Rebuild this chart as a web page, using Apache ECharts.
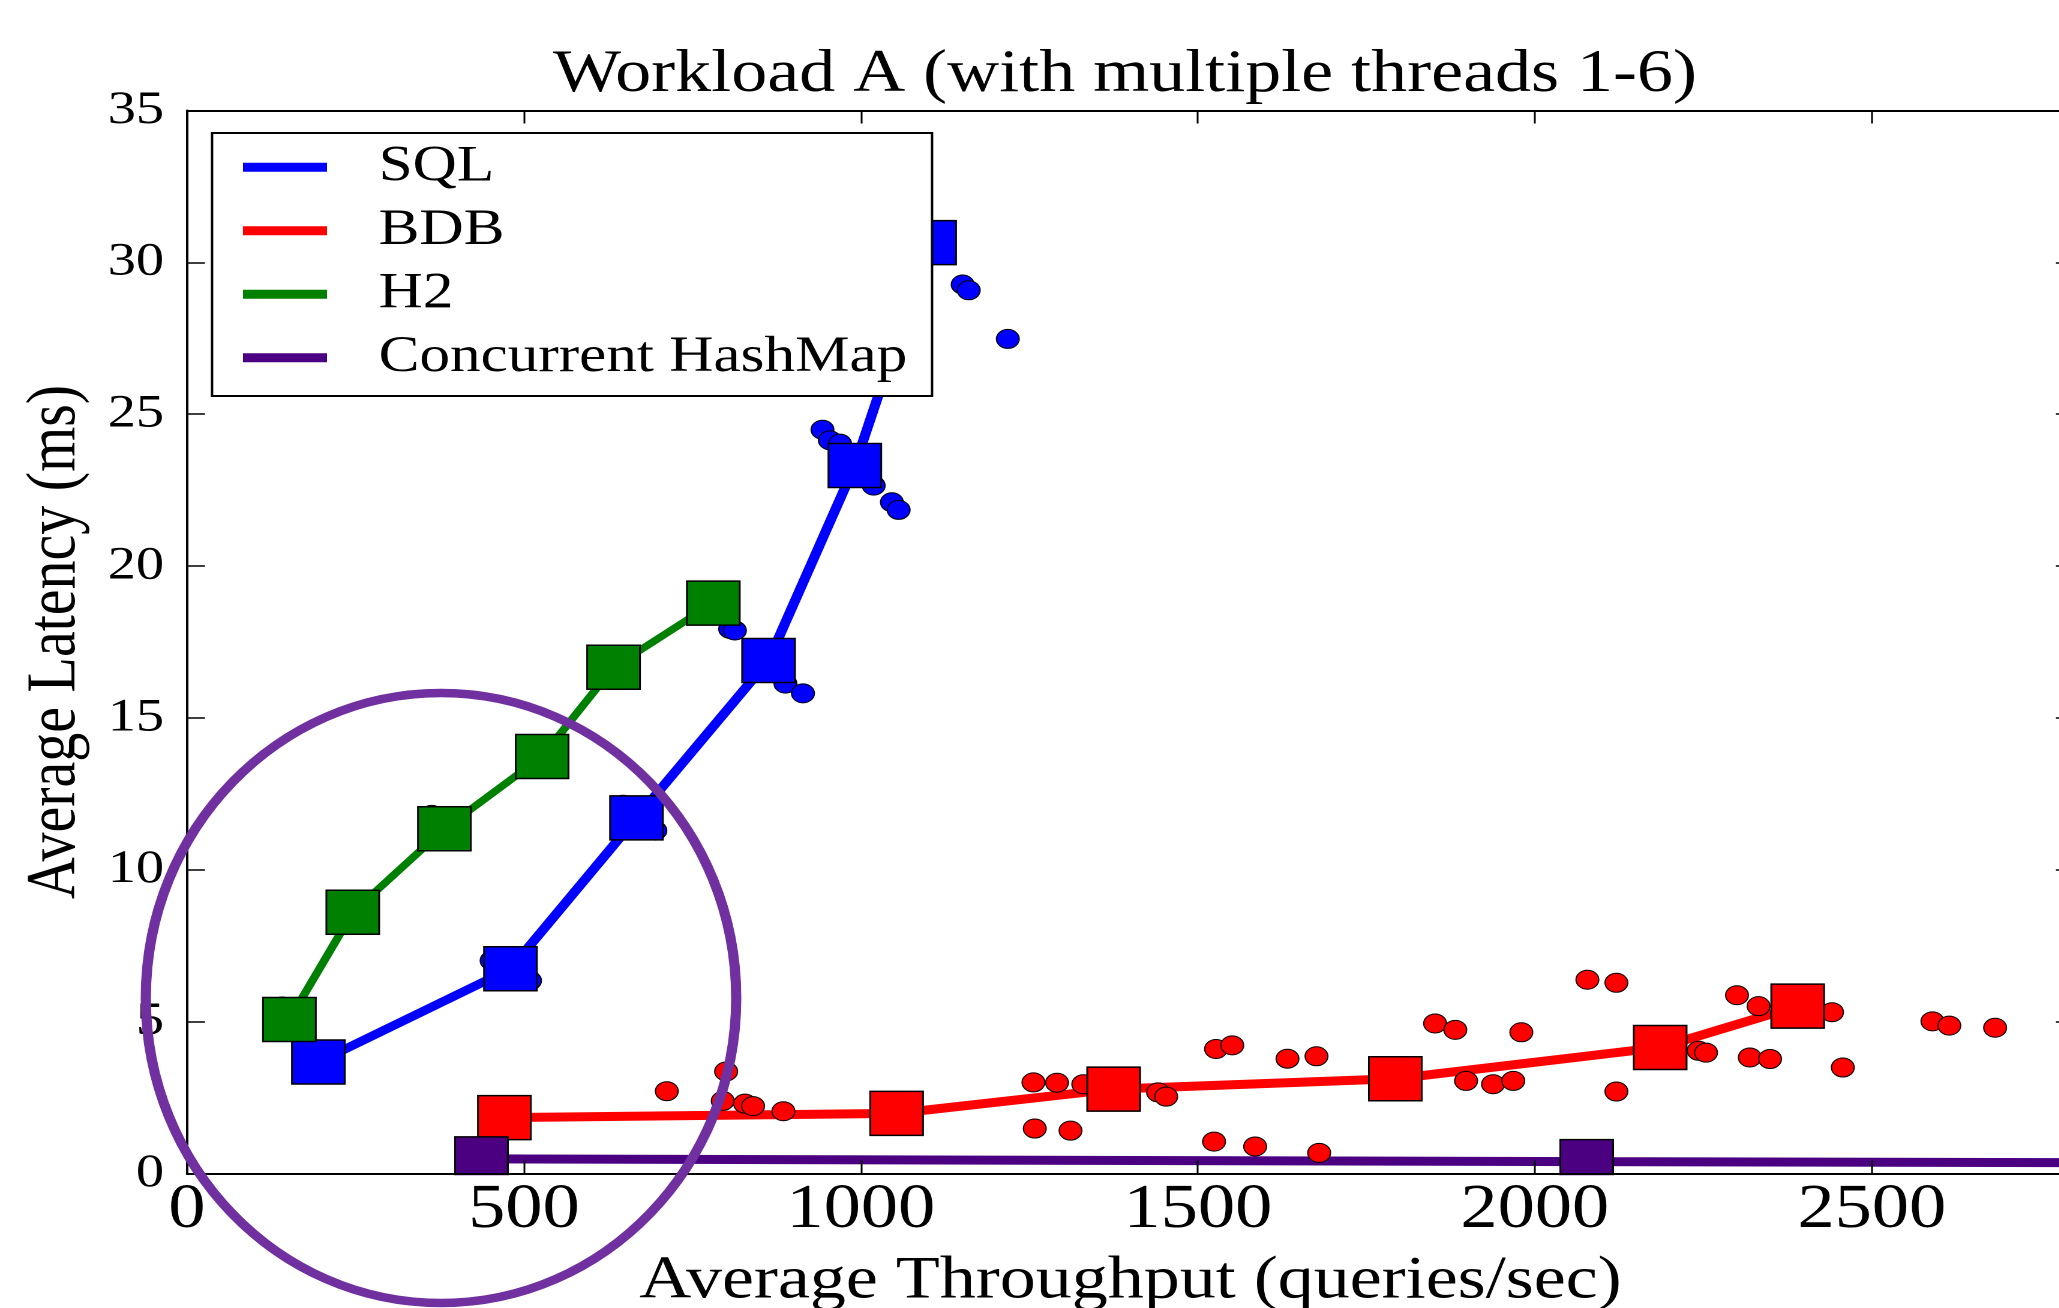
<!DOCTYPE html>
<html>
<head>
<meta charset="utf-8">
<script src="https://cdn.jsdelivr.net/npm/echarts@6/dist/echarts.min.js"></script>
<style>
html, body { margin: 0; padding: 0; background: #ffffff; overflow: hidden; }
#wrap { width: 2059px; height: 1308px; overflow: hidden; position: relative; background: #ffffff; }
#chart { width: 1716px; height: 1308px; transform: scaleX(1.2); transform-origin: 0 0; }
</style>
</head>
<body>
<div id="wrap"><div id="chart"></div></div>
<script>
// ---------- data ----------
const titleText = 'Workload A (with multiple threads 1-6)';
const xAxisName = 'Average Throughput (queries/sec)';
const yAxisName = 'Average Latency (ms)';
const legendNames = ['SQL', 'BDB', 'H2', 'Concurrent HashMap'];

const xMin = 0, xMax = 2800, xStep = 500;
const yMin = 0, yMax = 35, yStep = 5;

// SQL: averages (squares) and individual runs (circles)
const sqlAvgX = [195, 480, 667, 863, 991, 1102];
const sqlAvgY = [3.67, 6.74, 11.71, 16.89, 23.31, 30.65];
const sqlRunX = [452, 509, 647, 695, 806, 813, 888, 914, 943, 954, 969, 1019, 1046, 1056, 1151, 1160, 1218];
const sqlRunY = [7.01, 6.35, 12.14, 11.29, 17.93, 17.88, 16.13, 15.81, 24.49, 24.14, 24.03, 22.65, 22.10, 21.85, 29.27, 29.08, 27.48];

// BDB
const bdbAvgX = [471, 1053, 1375, 1793, 2186, 2390];
const bdbAvgY = [1.84, 1.98, 2.78, 3.12, 4.15, 5.51];
const bdbRunX = [712, 800, 795, 828, 840, 885, 1256, 1291, 1330, 1441, 1453, 1258, 1311,
                 1527, 1551, 1633, 1676, 1524, 1585, 1680, 1852, 1882, 1980, 1898, 1938, 1968,
                 2078, 2121, 2121, 2243, 2254, 2300, 2332, 2319, 2349, 2441, 2457, 2590, 2615, 2683];
const bdbRunY = [2.71, 3.36, 2.39, 2.30, 2.22, 2.05, 3.00, 2.99, 2.94, 2.67, 2.53, 1.48, 1.41,
                 4.10, 4.22, 3.78, 3.86, 1.05, 0.89, 0.68, 4.94, 4.73, 4.65, 3.05, 2.94, 3.05,
                 6.38, 6.28, 2.70, 4.04, 3.98, 5.87, 5.51, 3.82, 3.77, 5.31, 3.49, 5.01, 4.87, 4.80];

// H2
const h2AvgX = [152, 246, 382, 527, 633, 781];
const h2AvgY = [5.07, 8.60, 11.35, 13.73, 16.67, 18.78];
const h2RunX = [141, 257, 363, 393];
const h2RunY = [5.50, 8.18, 11.81, 10.94];

// Concurrent HashMap (last point lies beyond the cropped right edge)
const hmAvgX = [437, 2077, 3400];
const hmAvgY = [0.48, 0.39, 0.33];

const colors = { sql: '#0000ff', bdb: '#ff0000', h2: '#008000', hm: '#4b0082' };

// ---------- helpers ----------
const zip = (xs, ys) => xs.map((x, i) => [x, ys[i]]);
const FONT = "'Liberation Serif', 'DejaVu Serif', 'Times New Roman', serif";

const GRID = { left: 155.8, right: -12.3, top: 110.5, bottom: 134.5 };

function runSeries(name, xs, ys, color) {
  return {
    type: 'scatter', name: name, data: zip(xs, ys),
    symbol: 'circle', symbolSize: 19,
    itemStyle: { color: color, borderColor: '#000', borderWidth: 1, opacity: 1 },
    emphasis: { disabled: true }, z: 2
  };
}
function avgSeries(name, xs, ys, color, lw) {
  return {
    type: 'line', name: name, data: zip(xs, ys),
    symbol: 'rect', symbolSize: 44, showSymbol: true, showAllSymbol: true,
    lineStyle: { color: color, width: lw },
    itemStyle: { color: color, borderColor: '#000', borderWidth: 1.5 },
    emphasis: { disabled: true }, clip: true, z: 2
  };
}

const axisLineStyle = { color: '#000', width: 2 };
const tickStyle = { color: '#000', width: 1.5 };

const option = {
  animation: false,
  backgroundColor: '#ffffff',
  grid: { left: GRID.left, right: GRID.right, top: GRID.top, bottom: GRID.bottom,
          containLabel: false, outerBoundsMode: 'none' },
  xAxis: [
    {
      type: 'value', position: 'bottom', min: xMin, max: xMax, interval: xStep, z: 4,
      axisLine: { show: true, onZero: false, lineStyle: axisLineStyle },
      axisTick: { show: true, inside: true, length: 13, lineStyle: tickStyle },
      axisLabel: { show: true, showMaxLabel: false, margin: 6, color: '#000', fontFamily: FONT, fontSize: 62,
                   formatter: v => (v % xStep === 0 ? String(v) : '') },
      splitLine: { show: false },
      name: xAxisName, nameLocation: 'middle', nameGap: 78,
      nameTextStyle: { color: '#000', fontFamily: FONT, fontSize: 60 }
    },
    {
      type: 'value', position: 'top', min: xMin, max: xMax, interval: xStep, z: 4,
      axisLine: { show: true, onZero: false, lineStyle: axisLineStyle },
      axisTick: { show: true, inside: true, length: 13, lineStyle: tickStyle },
      axisLabel: { show: false }, splitLine: { show: false }
    }
  ],
  yAxis: [
    {
      type: 'value', position: 'left', min: yMin, max: yMax, interval: yStep, z: 4,
      axisLine: { show: true, onZero: false, lineStyle: axisLineStyle },
      axisTick: { show: true, inside: true, length: 15, lineStyle: tickStyle },
      axisLabel: { show: true, margin: 19, color: '#000', fontFamily: FONT, fontSize: 47,
                   formatter: v => String(v) },
      splitLine: { show: false },
      name: yAxisName, nameLocation: 'middle', nameGap: 80,
      nameTextStyle: { color: '#000', fontFamily: FONT, fontSize: 58 }
    },
    {
      type: 'value', position: 'right', min: yMin, max: yMax, interval: yStep, z: 4,
      axisLine: { show: true, onZero: false, lineStyle: axisLineStyle },
      axisTick: { show: true, inside: true, length: 15, lineStyle: tickStyle },
      axisLabel: { show: false }, splitLine: { show: false }
    }
  ],
  legend: {
    show: true, orient: 'vertical', left: 202.5, top: 141.7, padding: 0,
    data: legendNames, selectedMode: false, icon: 'rect',
    itemWidth: 70, itemHeight: 9, itemGap: 12.5, z: 6,
    itemStyle: { borderWidth: 0 },
    textStyle: { color: '#000', fontFamily: FONT, fontSize: 51, padding: [0, 0, 0, 38] }
  },
  graphic: [
    { type: 'rect', z: 3, silent: true,
      shape: { x: GRID.left, y: 1175.2, width: 1716 - GRID.left - GRID.right, height: 13 },
      style: { fill: '#ffffff', stroke: null } },
    { type: 'rect', z: 5, silent: true,
      shape: { x: 176.7, y: 133, width: 600, height: 263 },
      style: { fill: '#ffffff', stroke: '#000000', lineWidth: 2 } },
    { type: 'text', z: 6, silent: true, x: 937.5, y: 75,
      style: { text: titleText, fill: '#000', fontFamily: FONT, fontSize: 60,
               font: "60px 'Liberation Serif', 'DejaVu Serif', serif",
               align: 'center', verticalAlign: 'middle', textAlign: 'center', textVerticalAlign: 'middle' } },
    { type: 'ellipse', z: 100, silent: true,
      shape: { cx: 367.5, cy: 998, rx: 246, ry: 305 },
      style: { fill: 'transparent', stroke: '#7030a0', lineWidth: 8.5 } }
  ],
  series: [
    runSeries('SQL runs', sqlRunX, sqlRunY, colors.sql),
    avgSeries('SQL', sqlAvgX, sqlAvgY, colors.sql, 8.5),
    runSeries('BDB runs', bdbRunX, bdbRunY, colors.bdb),
    avgSeries('BDB', bdbAvgX, bdbAvgY, colors.bdb, 9),
    runSeries('H2 runs', h2RunX, h2RunY, colors.h2),
    avgSeries('H2', h2AvgX, h2AvgY, colors.h2, 7),
    avgSeries('Concurrent HashMap', hmAvgX, hmAvgY, colors.hm, 9)
  ]
};

const chart = echarts.init(document.getElementById('chart'), null, { renderer: 'canvas', devicePixelRatio: 2 });
chart.setOption(option);
</script>
</body>
</html>
